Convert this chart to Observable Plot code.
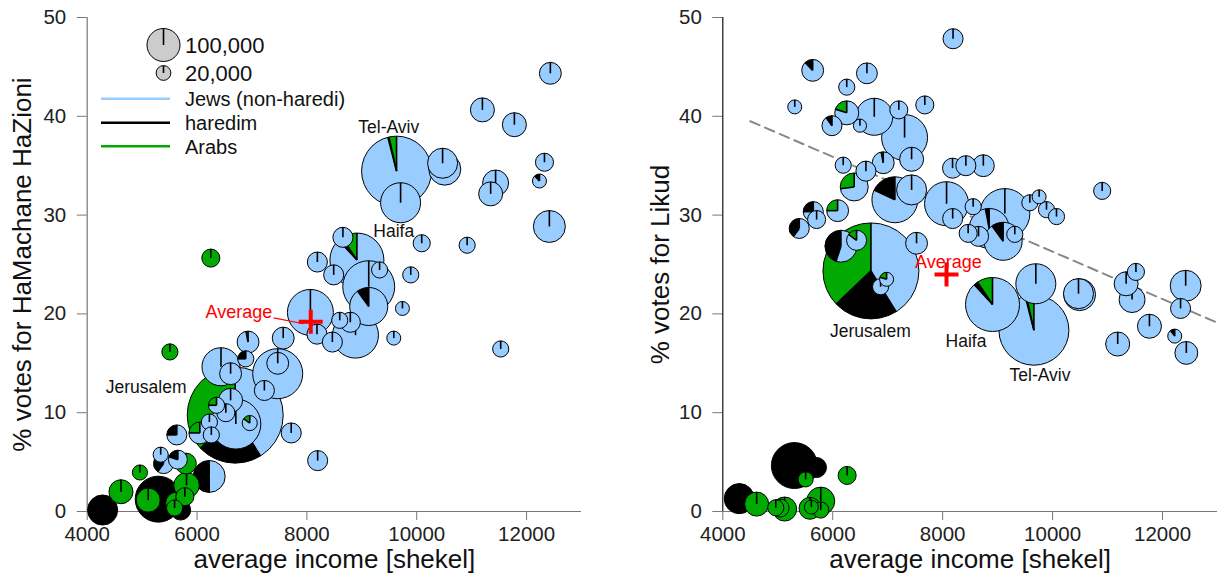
<!DOCTYPE html>
<html><head><meta charset="utf-8">
<script src="https://cdn.jsdelivr.net/npm/d3@7"></script>
<script src="https://cdn.jsdelivr.net/npm/@observablehq/plot@0.6"></script>
<style>
html,body{margin:0;padding:0;background:#fff;}
#wrap{display:flex;width:1217px;height:574px;overflow:hidden;}
#wrap svg{display:block;overflow:visible;}
[aria-label$="axis tick"]{stroke:#777;}
[aria-label="x-axis"] line,[aria-label="y-axis"] line{stroke:#777;}
</style></head><body><div id="wrap"></div><script>
// ---- data ----
const xTicks = [4000, 6000, 8000, 10000, 12000];
const yTicks = [0, 10, 20, 30, 40, 50];
const groups = ["Jews (non-haredi)", "haredim", "Arabs"];
const groupColors = ["#99ccff", "#000000", "#00aa00"];
const legendSizes = [100, 20];            // thousands of residents
const legendSizeLabels = ["100,000", "20,000"];
// [average income, % HaMachane HaZioni, population (thousands), Arab share, haredi share]
const leftTowns = [
  [12442,44.3,44,0,0],[11205,40.6,53,0,0],[11787,39.1,53,0,0],[12335,35.3,30,0,0],
  [12244,33.4,18,0,0.12],[11445,33.2,62,0,0],[11355,32.1,53,0,0],[12424,28.8,94,0,0],
  [10480,35.2,83,0,0],[10520,34.6,94,0,0],[9642,34.4,450,0.035,0.005],[9715,31.2,147,0,0],
  [10100,27.1,27,0,0],[10927,26.9,24,0,0],[9900,23.9,24,0,0],[9749,20.5,18,0,0],
  [9591,17.5,18,0,0],[11538,16.4,24,0,0],[8205,5.1,37,0,0],[8200,25.2,37,0,0],
  [8665,27.7,37,0,0],[8920,25.4,268,0.094,0.024],[8497,23.9,37,0,0],[9333,24.4,24,0,0],
  [9135,22.7,248,0,0],[9135,20.7,133,0,0.10],[8894,17.8,194,0,0],[8073,20.1,194,0,0],
  [8193,17.9,37,0,0],[8607,19.3,24,0,0],[8800,19.1,37,0,0],[8473,17.1,37,0,0],
  [6445,14.6,133,0,0],[6620,13.9,44,0,0],[6896,15.4,24,0,0.25],[6938,17.1,44,0.03,0],
  [7578,17.5,44,0,0],[7478,13.9,230,0,0],[7478,14.95,44,0,0],[6715,8.8,230,0,0],
  [7235,12.2,37,0,0],[6620,11.2,53,0,0],[6969,8.9,21,0.15,0],[7724,7.9,37,0,0],
  [6533,9.95,30,0,0],[6234,9.0,24,0,0],[6269,7.7,24,0,0],[6060,7.9,44,0.25,0],
  [5660,5.2,33,0,0.2],[5641,7.7,37,0,0.25],[5347,5.7,21,0,0],[5400,4.8,37,0,0.4],
  [6364,10.7,24,0.25,0],[6230,3.5,94,0,0.5],[6704,9.7,846,0.371,0.217],
  [5515,16.1,24,1,0],[4969,3.9,21,1,0],[4624,1.95,53,1,0],[4290,0.1,83,0,1],
  [5302,1.2,194,0,1],[5120,1.1,53,1,0],[5636,0.8,44,1,0],[5787,1.45,30,1,0],
  [5818,2.6,60,1,0],[5806,4.8,40,1,0],[5710,0.1,37,0,1],[5600,0.3,24,1,0],[6260,25.6,30,1,0]
];
// [average income, % Likud, population (thousands), Arab share, haredi share]
const rightTowns = [
  [8198,47.8,37,0,0],[5644,44.6,44,0,0.12],[6264,42.9,24,0,0],[6631,44.3,40,0,0],
  [5318,40.9,18,0,0],[7684,41.1,30,0,0],[7211,40.6,30,0,0],[6765,39.9,126,0,0],
  [6264,40.3,53,0.2,0],[5995,39.0,37,0,0.1],[6504,39.0,16,0,0],[7316,37.8,194,0,0],
  [6200,35.0,24,0,0],[6613,34.4,37,0,0],[6928,35.25,44,0.03,0],[7444,35.6,53,0,0],
  [6400,32.8,72,0.27,0],[7140,31.5,194,0,0.18],[7444,32.5,83,0,0],[8080,31.1,178,0,0],
  [8189,34.7,37,0,0],[8431,34.95,37,0,0],[8749,34.95,44,0,0],[8191,29.6,37,0,0],
  [8564,30.8,24,0,0],[9140,30.1,230,0,0],[8855,28.6,147,0,0.03],[9109,27.3,133,0,0.10],
  [8662,27.8,37,0,0],[8473,28.1,30,0,0],[9321,28.0,24,0,0],[9595,31.2,24,0,0],
  [9764,31.8,18,0,0],[9898,30.5,24,0,0],[10080,29.8,24,0,0],[7534,27.1,44,0,0],
  [6704,24.3,846,0.371,0.217],[6443,27.4,37,0.15,0],[6158,26.8,94,0,0.45],
  [5400,28.6,37,0,0.4],[5655,30.3,37,0,0.25],[5716,29.5,30,0,0],[6098,30.4,44,0.25,0],
  [6989,23.45,18,0.2,0],[6880,22.7,24,0,0],[8916,20.9,268,0.094,0.024],[9704,23.0,147,0,0],
  [9669,18.3,450,0.035,0.005],[10500,21.9,94,0,0],[10480,22.0,83,0,0],[11347,23.0,53,0,0],
  [11455,21.4,62,0,0],[11525,24.2,27,0,0],[11771,18.7,53,0,0],[11193,16.9,53,0,0],
  [12337,20.5,37,0,0],[12231,17.7,18,0,0.1],[12442,16.0,48,0,0],[12430,22.8,88,0,0],
  [10911,32.4,27,0,0],
  [5311,4.6,194,0,1],[5713,4.4,37,0,1],[5516,3.2,21,1,0],[6271,3.6,30,1,0],
  [4309,1.25,83,0,1],[4625,0.7,53,1,0],[4973,0.33,24,1,0],[5134,0.2,53,1,0],
  [5595,0.27,44,1,0],[5620,0.4,18,1,0],[5791,1.0,72,1,0],[5791,0.1,24,1,0],[5050,0.3,30,1,0]
];
const leftAverage = [8070, 19.2];
const rightAverage = [8070, 24.0];
const likudTrend = [[4500, 39.5], [13000, 19.1]];
const leftCityLabels = [["Tel-Aviv", 9491, 38.9], ["Haifa", 9582, 28.4], ["Jerusalem", 5073, 12.6]];
const rightCityLabels = [["Jerusalem", 6685, 18.25], ["Haifa", 8424, 17.2], ["Tel-Aviv", 9771, 13.8]];
const leftAvgLabel = [7371, 20.2, 7394, 19.6, 7940, 19.0];
const rightAvgLabel = [8104, 25.2];

// ---- helpers ----
const FONT = "'Liberation Sans', Arial, Helvetica, sans-serif";
const rScale = d3.scaleSqrt().domain([0, 100]).range([0, 16.5]);
const TAU = Math.PI * 2;

function drawPie(parent, cx, cy, r, fracs, colors) {
  const gp = parent.append("g").attr("transform", `translate(${cx},${cy})`);
  let a0 = 0;
  const bounds = [0];
  fracs.forEach((f, k) => {
    if (f <= 0) return;
    const a1 = a0 + f * TAU;
    if (f >= 0.9999) gp.append("circle").attr("r", r).attr("fill", colors[k]);
    else gp.append("path").attr("d", d3.arc()({innerRadius: 0, outerRadius: r, startAngle: -a1, endAngle: -a0})).attr("fill", colors[k]);
    if (a1 < TAU - 1e-4) bounds.push(a1);
    a0 = a1;
  });
  gp.append("circle").attr("r", r).attr("fill", "none").attr("stroke", "#000").attr("stroke-width", 1);
  for (const a of bounds) {
    gp.append("line").attr("x1", 0).attr("y1", 0)
      .attr("x2", -r * Math.sin(a)).attr("y2", -r * Math.cos(a))
      .attr("stroke", "#000").attr("stroke-width", 1.6);
  }
}

function pieMark(rows) {
  return (index, scales) => {
    const g = d3.create("svg:g").attr("aria-label", "pies");
    const sorted = rows.slice().sort((a, b) => b[2] - a[2]);
    for (const d of sorted) {
      const jews = Math.max(0, 1 - d[3] - d[4]);
      drawPie(g, scales.x(d[0]), scales.y(d[1]), rScale(d[2]), [d[3], d[4], jews],
        [groupColors[2], groupColors[1], groupColors[0]]);
    }
    return g.node();
  };
}

function legendMark() {
  return () => {
    const g = d3.create("svg:g").attr("aria-label", "legend").attr("font-family", FONT).attr("text-anchor", "start");
    const px = 163.5, ys = [45, 73];
    legendSizes.forEach((s, i) => {
      drawPie(g, px, ys[i], rScale(s), [1], ["#cccccc"]);
      g.append("text").attr("x", 185).attr("y", ys[i] + 7.5).attr("font-size", 22)
        .attr("fill", "#111").text(legendSizeLabels[i]);
    });
    const ly = [98.7, 122.7, 146.2];
    groups.forEach((name, i) => {
      g.append("line").attr("x1", 101).attr("x2", 170).attr("y1", ly[i]).attr("y2", ly[i])
        .attr("stroke", groupColors[i]).attr("stroke-width", 2.5);
      g.append("text").attr("x", 185).attr("y", ly[i] + 7.5).attr("font-size", 20)
        .attr("fill", "#111").text(name);
    });
    return g.node();
  };
}

const crossSymbol = {
  draw(ctx, size) {
    const L = Math.sqrt(size / Math.PI), t = 2;
    ctx.moveTo(-L, -t); ctx.lineTo(-t, -t); ctx.lineTo(-t, -L); ctx.lineTo(t, -L);
    ctx.lineTo(t, -t); ctx.lineTo(L, -t); ctx.lineTo(L, t); ctx.lineTo(t, t);
    ctx.lineTo(t, L); ctx.lineTo(-t, L); ctx.lineTo(-t, t); ctx.lineTo(-L, t); ctx.closePath();
  }
};

const hasAxisMarks = typeof Plot.axisX === "function";
function axisMarks() {
  if (!hasAxisMarks) return [];
  return [
    Plot.axisX({ticks: xTicks, tickFormat: d3.format("d"), tickSize: 9, tickPadding: 6, label: null, fontSize: 20.5, stroke: "#777", fill: "#222"}),
    Plot.axisY({ticks: yTicks, tickSize: 10, tickPadding: 11, label: null, fontSize: 20.5, stroke: "#777", fill: "#222"})
  ];
}

function basePlot(opts, marks) {
  return Plot.plot({
    width: opts.width, height: 574,
    marginLeft: opts.marginLeft, marginRight: opts.marginRight, marginTop: 17, marginBottom: 63,
    style: {fontFamily: FONT, fontSize: "20.5px", color: "#222", background: "white", overflow: "visible"},
    x: {domain: [4000, 13000], ticks: xTicks, tickFormat: "d", tickSize: 9, tickPadding: 6, label: null},
    y: {domain: [0, 50], ticks: yTicks, tickSize: 10, tickPadding: 11, label: null},
    marks: [...axisMarks(), ...marks]
  });
}

const left = basePlot({width: 608, marginLeft: 86.7, marginRight: 27}, [
  Plot.ruleY([0], {stroke: "#777", strokeWidth: 1.2}),
  Plot.ruleX([4000], {stroke: "#777", strokeWidth: 1.2}),
  pieMark(leftTowns),
  Plot.link([leftAvgLabel], {x1: d => d[2], y1: d => d[3], x2: d => d[4], y2: d => d[5], stroke: "red", strokeWidth: 1.2}),
  Plot.dot([leftAverage], {x: d => d[0], y: d => d[1], r: 12, symbol: crossSymbol, fill: "red", stroke: null}),
  Plot.text([leftAvgLabel], {x: d => d[0], y: d => d[1], text: () => "Average", textAnchor: "end", fill: "red", fontSize: 18}),
  Plot.text(leftCityLabels, {x: d => d[1], y: d => d[2], text: d => d[0], fontSize: 17.5, fill: "#111"}),
  legendMark(),
  Plot.text(["average income [shekel]"], {frameAnchor: "bottom", lineAnchor: "middle", textAnchor: "middle", dy: 48, fontSize: 26, fill: "#111"}),
  Plot.text(["% votes for HaMachane HaZioni"], {frameAnchor: "left", lineAnchor: "middle", textAnchor: "middle", rotate: -90, dx: -65, fontSize: 26, fill: "#111"})
]);

const right = basePlot({width: 609, marginLeft: 114.3, marginRight: 0}, [
  Plot.ruleY([0], {stroke: "#777", strokeWidth: 1.2}),
  Plot.ruleX([4000], {stroke: "#111", strokeWidth: 1.2}),
  Plot.line(likudTrend, {x: d => d[0], y: d => d[1], stroke: "#888", strokeWidth: 2, strokeDasharray: "10,6"}),
  pieMark(rightTowns),
  Plot.text([rightAvgLabel], {x: d => d[0], y: d => d[1], text: () => "Average", fill: "red", fontSize: 18}),
  Plot.dot([rightAverage], {x: d => d[0], y: d => d[1], r: 12, symbol: crossSymbol, fill: "red", stroke: null}),
  Plot.text(rightCityLabels, {x: d => d[1], y: d => d[2], text: d => d[0], fontSize: 17.5, fill: "#111"}),
  Plot.text(["average income [shekel]"], {frameAnchor: "bottom", lineAnchor: "middle", textAnchor: "middle", dy: 48, fontSize: 26, fill: "#111"}),
  Plot.text(["% votes for Likud"], {frameAnchor: "left", lineAnchor: "middle", textAnchor: "middle", rotate: -90, dx: -62, fontSize: 26, fill: "#111"})
]);

document.getElementById("wrap").append(left, right);
</script></body></html>
